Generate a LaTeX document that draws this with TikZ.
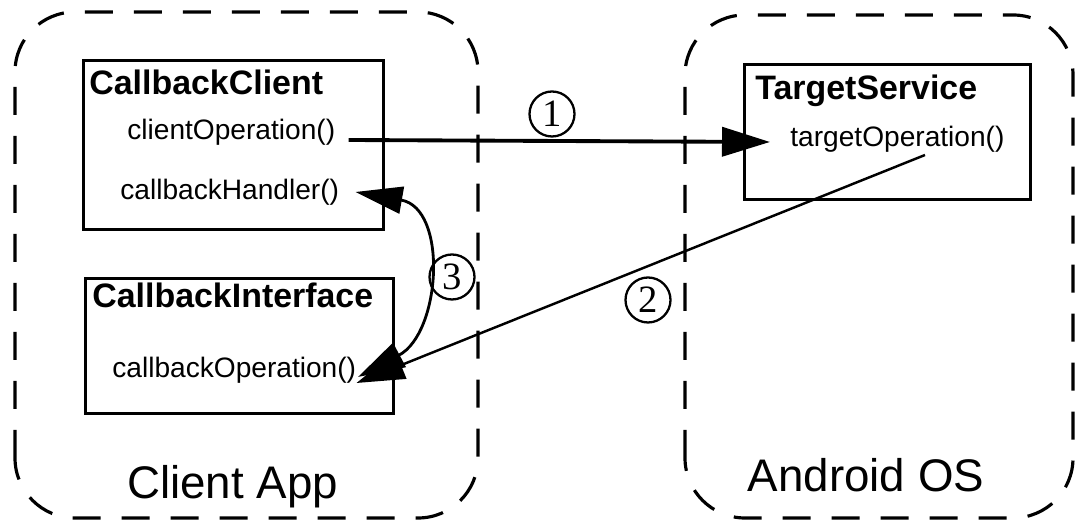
\documentclass[tikz,border=0pt]{standalone}
\usepackage{fontspec}
\setmainfont{Liberation Sans}
\newfontfamily\stepfont{Liberation Serif}
\usetikzlibrary{arrows.meta,positioning}

\begin{document}
\begin{tikzpicture}[
    appRegion/.style={line width=1.8pt, dash pattern=on 0.56cm off 0.42cm, rounded corners=1.2cm},
    classBox/.style={draw, line width=1.9pt, inner sep=0, anchor=north west},
    className/.style={anchor=base west, inner sep=0, font=\fontsize{19.3}{21}\selectfont\bfseries},
    methodName/.style={anchor=base west, inner sep=0, font=\fontsize{16}{18}\selectfont},
    regionName/.style={anchor=base, inner sep=0, font=\fontsize{26}{30}\selectfont},
    stepMark/.style={draw, circle, line width=1.3pt, minimum size=0.9cm, inner sep=0,
        font=\stepfont\fontsize{22}{24}\selectfont},
    callArrow/.style={-{Triangle[length=0.96cm, width=0.58cm]}},
    replyArrow/.style={{Triangle[length=0.94cm, width=0.54cm]}-{Triangle[length=0.94cm, width=0.54cm]}}
]
    \useasboundingbox (0,0) rectangle (21.6,10.46);

    % Client App side
    \draw[appRegion] (0.3,0.1) rectangle (9.56,10.22);
    \node[regionName] (clientApp) at (4.65,0.48) {Client App};

    \node[classBox, minimum width=6cm, minimum height=3.38cm] (clientBox) at (1.64,9.28) {};
    \node[className] (clientTitle) at (1.78,8.56) {CallbackClient};
    \node[methodName] (clientOp) at (2.54,7.66) {clientOperation()};
    \node[methodName] (handlerOp) at (2.40,6.46) {callbackHandler()};

    \node[classBox, minimum width=6.16cm, minimum height=2.7cm] (ifaceBox) at (1.68,4.92) {};
    \node[className] (ifaceTitle) at (1.84,4.30) {CallbackInterface};
    \node[methodName] (callbackOp) at (2.24,2.90) {callbackOperation()};

    % Android OS side
    \draw[appRegion] (13.7,0.1) rectangle (21.46,10.16);
    \node[regionName] (androidOs) at (17.32,0.62) {Android OS};

    \node[classBox, minimum width=5.72cm, minimum height=2.7cm] (serviceBox) at (14.86,9.2) {};
    \node[className] (serviceTitle) at (15.10,8.46) {TargetService};
    \node[methodName] (targetOp) at (15.80,7.52) {targetOperation()};

    % calls between the two sides
    \draw[callArrow, line width=2.2pt]
        ([xshift=.26cm]clientOp.base east) -- ([xshift=-.4cm,yshift=.1cm]targetOp.base west);
    \draw[callArrow, line width=1.4pt]
        ([xshift=2.7cm,yshift=-.16cm]targetOp.base west) -- ([yshift=-.1cm]callbackOp.base east);
    \draw[replyArrow, line width=1.6pt]
        ([xshift=.32cm,yshift=.16cm]handlerOp.base east)
        to[out=-10, in=28, looseness=1.3] ([xshift=.03cm,yshift=.02cm]callbackOp.base east);

    % step numbers
    \node[stepMark] (stepOne) at (11.04,8.18) {1};
    \node[stepMark] (stepTwo) at (12.96,4.46) {2};
    \node[stepMark] (stepThree) at (9.04,4.92) {3};
\end{tikzpicture}
\end{document}
